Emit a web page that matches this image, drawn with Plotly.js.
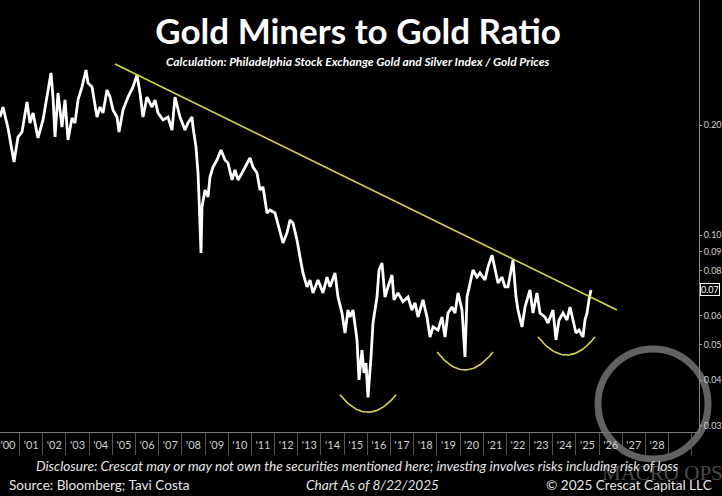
<!DOCTYPE html>
<html><head><meta charset="utf-8">
<script src="https://cdn.plot.ly/plotly-3.0.1.min.js"></script>
<style>html,body{margin:0;padding:0;background:#000;}#chart{width:722px;height:496px;}</style>
</head><body><div id="chart"></div>
<script>
// Gold miners (XAU) / gold ratio (decimal years)
const dates = [
 2000.155,2000.284,2000.500,2000.759,2000.932,2001.104,2001.320,2001.449,2001.579,2001.794,
 2002.010,2002.226,2002.355,2002.441,2002.528,2002.657,2002.830,2002.959,2003.088,2003.261,
 2003.391,2003.520,2003.692,2003.865,2003.951,2004.124,2004.340,2004.469,2004.598,2004.771,
 2004.900,2005.030,2005.202,2005.289,2005.461,2005.677,2005.893,2006.065,2006.195,2006.324,
 2006.497,2006.712,2006.842,2006.971,2007.187,2007.403,2007.575,2007.705,2007.834,2007.920,
 2008.136,2008.265,2008.438,2008.481,2008.610,2008.697,2008.740,2008.826,2008.869,2008.999,
 2009.128,2009.214,2009.344,2009.517,2009.689,2009.862,2009.991,2010.164,2010.293,2010.422,
 2010.595,2010.724,2010.940,2011.069,2011.242,2011.371,2011.501,2011.673,2011.803,2012.018,
 2012.234,2012.363,2012.536,2012.666,2012.795,2012.968,2013.097,2013.226,2013.399,2013.528,
 2013.658,2013.874,2014.090,2014.262,2014.392,2014.607,2014.737,2014.909,2015.038,2015.168,
 2015.254,2015.383,2015.556,2015.642,2015.772,2015.858,2015.944,2016.030,2016.160,2016.246,
 2016.419,2016.505,2016.634,2016.764,2016.893,2017.066,2017.152,2017.325,2017.540,2017.756,
 2017.929,2018.058,2018.188,2018.403,2018.576,2018.705,2018.835,2019.050,2019.223,2019.352,
 2019.482,2019.654,2019.784,2019.913,2020.086,2020.215,2020.302,2020.431,2020.560,2020.733,
 2020.862,2021.078,2021.207,2021.380,2021.509,2021.639,2021.811,2021.941,2022.070,2022.286,
 2022.415,2022.501,2022.674,2022.804,2023.019,2023.148,2023.321,2023.451,2023.666,2023.796,
 2024.011,2024.141,2024.270,2024.443,2024.615,2024.745,2024.874,2025.003,2025.133,2025.305,
 2025.392,2025.478,2025.564,2025.650
];
const ratio = [
 0.2105,0.2242,0.1963,0.1585,0.1855,0.1915,0.2314,0.2027,0.2160,0.1844,
 0.2066,0.2449,0.2779,0.2388,0.1855,0.2449,0.1976,0.2344,0.1821,0.2092,
 0.2027,0.2344,0.2545,0.2832,0.2610,0.2545,0.2105,0.2242,0.2160,0.2496,
 0.2388,0.2201,0.2105,0.1915,0.2201,0.2388,0.2545,0.2745,0.2449,0.2105,
 0.2388,0.2242,0.2344,0.2160,0.2066,0.2105,0.1939,0.2388,0.2201,0.2105,
 0.1939,0.2027,0.2105,0.1976,0.1742,0.1479,0.1271,0.0893,0.1193,0.1328,
 0.1271,0.1442,0.1535,0.1605,0.1709,0.1605,0.1575,0.1415,0.1507,0.1415,
 0.1479,0.1535,0.1625,0.1535,0.1479,0.1328,0.1354,0.1149,0.1171,0.1149,
 0.1013,0.0951,0.1013,0.1099,0.1078,0.0969,0.0870,0.0787,0.0721,0.0753,
 0.0694,0.0753,0.0694,0.0767,0.0721,0.0787,0.0676,0.0611,0.0539,0.0623,
 0.0596,0.0623,0.0516,0.0401,0.0484,0.0419,0.0446,0.0359,0.0463,0.0574,
 0.0676,0.0802,0.0838,0.0676,0.0721,0.0777,0.0664,0.0694,0.0656,0.0676,
 0.0623,0.0652,0.0596,0.0664,0.0596,0.0525,0.0560,0.0549,0.0596,0.0525,
 0.0611,0.0635,0.0611,0.0694,0.0623,0.0463,0.0676,0.0739,0.0802,0.0767,
 0.0787,0.0753,0.0818,0.0881,0.0802,0.0739,0.0767,0.0721,0.0721,0.0854,
 0.0676,0.0623,0.0560,0.0635,0.0707,0.0611,0.0694,0.0611,0.0596,0.0574,
 0.0623,0.0516,0.0585,0.0611,0.0585,0.0635,0.0585,0.0539,0.0549,0.0525,
 0.0585,0.0611,0.0664,0.0707
];
// Downtrend line drawn on the chart
const trendDates = [2005.116, 2026.77];
const trendValues = [0.2941, 0.0623];
// The three yellow "smile" bottoms
const arcStartDates = [2014.82, 2019.01, 2023.36];
const arcEndDates = [2017.24, 2021.42, 2025.83];
const arcEdgeValues = [0.0365, 0.0478, 0.0526];
const arcBottomValues = [0.0327, 0.0427, 0.0469];
// Axis ticks
const xTickDates = [2000.5,2001.5,2002.5,2003.5,2004.5,2005.5,2006.5,2007.5,2008.5,2009.5,2010.5,2011.5,2012.5,2013.5,2014.5,2015.5,2016.5,2017.5,2018.5,2019.5,2020.5,2021.5,2022.5,2023.5,2024.5,2025.5,2026.5,2027.5,2028.5];
const xTickLabels = ["'00","'01","'02","'03","'04","'05","'06","'07","'08","'09","'10","'11","'12","'13","'14","'15","'16","'17","'18","'19","'20","'21","'22","'23","'24","'25","'26","'27","'28"];
const yTickValues = [0.03,0.04,0.05,0.06,0.07,0.08,0.09,0.10,0.20];
const yTickLabels = ['0.03','0.04','0.05','0.06','0.07','0.08','0.09','0.10','0.20'];

// ---- layout geometry ----
const W = 722, H = 496, ML = 0, MR = 23, MT = 0, MB = 64;
const PW = W - ML - MR, PH = H - MT - MB;
const px = x => (x - ML) / PW;
const py = y => (H - MB - y) / PH;

const traces = [];
traces.push({x: dates, y: ratio, type: 'scatter', mode: 'lines',
  line: {color: '#ffffff', width: 2.8}, hoverinfo: 'skip'});
traces.push({x: trendDates, y: trendValues, type: 'scatter', mode: 'lines',
  line: {color: '#d8d34a', width: 1.6}, hoverinfo: 'skip'});
for (let i = 0; i < arcStartDates.length; i++) {
  const xs = [], ys = [];
  const mid = (arcStartDates[i] + arcEndDates[i]) / 2, half = (arcEndDates[i] - arcStartDates[i]) / 2;
  const lb = Math.log10(arcBottomValues[i]), le = Math.log10(arcEdgeValues[i]);
  for (let k = 0; k <= 40; k++) {
    const t = -1 + 2 * k / 40;
    xs.push(mid + t * half);
    ys.push(Math.pow(10, lb + (le - lb) * t * t));
  }
  traces.push({x: xs, y: ys, type: 'scatter', mode: 'lines',
    line: {color: '#d8d34a', width: 1.6}, hoverinfo: 'skip'});
}

const F = 'Lato, "Open Sans", sans-serif';
const lastVal = ratio[ratio.length - 1];
const lastLabel = lastVal.toFixed(2);
// the current-value badge replaces the matching tick label
const shownTickLabels = yTickLabels.map(t => (t === lastLabel ? '' : t));
const layout = {
  width: W, height: H,
  margin: {l: ML, r: MR, t: MT, b: MB},
  paper_bgcolor: '#000', plot_bgcolor: '#000',
  showlegend: false,
  title: {text: 'Gold Miners to Gold Ratio', font: {family: F, size: 35, color: '#ffffff', weight: 'bold'},
    x: 0.496, xanchor: 'center', y: 1 - 32 / H, yanchor: 'middle', yref: 'container'},
  xaxis: {range: [2000.155, 2030.31], showgrid: false, zeroline: false,
    tickmode: 'array', tickvals: xTickDates, ticktext: xTickLabels, ticks: '',
    tickfont: {family: F, size: 11, color: '#cfcfcf'}, ticklabelstandoff: 3,
    showline: true, linecolor: '#777', linewidth: 1,
    minor: {tickmode: 'linear', tick0: 2000, dtick: 1, ticks: 'outside', ticklen: 22, tickcolor: '#555', tickwidth: 1, showgrid: false}},
  yaxis: {type: 'log', side: 'right', range: [-1.5397, -0.3562], showgrid: false, zeroline: false,
    tickmode: 'array', tickvals: yTickValues, ticktext: shownTickLabels,
    ticks: 'outside', ticklen: 2, tickcolor: '#aaa', ticklabelstandoff: 0,
    tickfont: {family: F, size: 9, color: '#cfcfcf'},
    showline: true, linecolor: '#888', linewidth: 1},
  shapes: [
    {type: 'circle', xref: 'paper', yref: 'paper', x0: px(598), x1: px(708), y0: py(459), y1: py(349),
     line: {color: 'rgba(140,140,140,0.7)', width: 7}, layer: 'below'}
  ],
  annotations: [
    {text: '<b><i>Calculation: Philadelphia Stock Exchange Gold and Silver Index / Gold Prices</i></b>',
     xref: 'paper', yref: 'paper', x: px(358), y: py(62), xanchor: 'center', yanchor: 'middle', showarrow: false,
     font: {family: F, size: 12, color: '#ffffff'}},
    {text: lastLabel, xref: 'paper', yref: 'y', x: 1, y: Math.log10(lastVal), xanchor: 'left', yanchor: 'middle',
     xshift: 1, showarrow: false, bgcolor: '#000', bordercolor: '#ffffff', borderwidth: 1, borderpad: 0,
     font: {family: F, size: 9, color: '#ffffff'}},
    {text: 'MACRO OPS', xref: 'paper', yref: 'paper', x: px(662), y: py(473), xanchor: 'center', yanchor: 'middle', showarrow: false,
     font: {family: '"Liberation Serif", "DejaVu Serif", serif', size: 21, color: 'rgba(140,140,140,0.55)'}},
    {text: '<i>Disclosure: Crescat may or may not own the securities mentioned here; investing involves risks including risk of loss</i>',
     xref: 'paper', yref: 'paper', x: px(357), y: py(466), xanchor: 'center', yanchor: 'middle', showarrow: false,
     font: {family: F, size: 13.6, color: '#e6e6e6'}},
    {text: 'Source: Bloomberg; Tavi Costa', xref: 'paper', yref: 'paper', x: px(7), y: py(485), xanchor: 'left', yanchor: 'middle', showarrow: false,
     font: {family: F, size: 13.6, color: '#e6e6e6'}},
    {text: '<i>Chart As of 8/22/2025</i>', xref: 'paper', yref: 'paper', x: px(372), y: py(485), xanchor: 'center', yanchor: 'middle', showarrow: false,
     font: {family: F, size: 13.6, color: '#e6e6e6'}},
    {text: '© 2025 Crescat Capital LLC', xref: 'paper', yref: 'paper', x: px(714), y: py(485), xanchor: 'right', yanchor: 'middle', showarrow: false,
     font: {family: F, size: 13.6, color: '#e6e6e6'}}
  ]
};
Plotly.newPlot('chart', traces, layout, {staticPlot: true, displayModeBar: false});
</script></body></html>
